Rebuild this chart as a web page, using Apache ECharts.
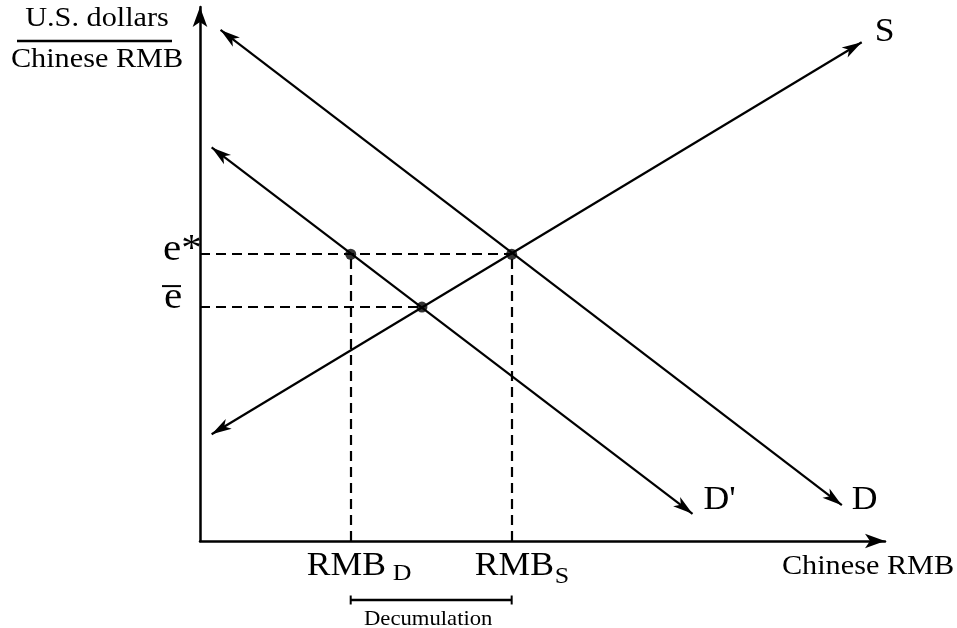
<!DOCTYPE html>
<html><head><meta charset="utf-8">
<script src="https://cdn.jsdelivr.net/npm/echarts@6/dist/echarts.min.js"></script>
<style>html,body{margin:0;padding:0;background:#fff}#c{width:957px;height:628px}</style>
</head><body><div id="c"></div>
<script>
// ---- data ----
const supplyX = [1.7, 96.6];
const supplyY = [20.0, 93.4];
const demandX = [3.0, 93.7];
const demandY = [95.7, 6.7];
const demandNewX = [1.7, 71.9];
const demandNewY = [73.7, 5.1];
const curveNames = ['S', 'D', "D'"];
const rateLevels = [53.7, 43.8];          // e*, e-bar
const rateLabels = ['e*', 'e'];
const quantityLevels = [22.0, 45.5];      // RMB_D, RMB_S
const quantityLabels = ['RMB', 'RMB'];
const quantitySubs = ['D', 'S'];
const eBarQuantity = 32.4;                // D' meets S at e-bar
const yAxisNameTop = 'U.S. dollars';
const yAxisNameBottom = 'Chinese RMB';
const xAxisName = 'Chinese RMB';
const bracketLabel = 'Decumulation';

const FONT = '"Liberation Serif","Times New Roman",serif';
// slender barbed arrow whose tip sits at the centre of a padded square box
const ARROW = 'path://M-20,-20 M20,20 M0,0 L5.5,19 L0,14 L-5.5,19 Z';
const chart = echarts.init(document.getElementById('c'), null, {renderer: 'canvas'});

const seg = (xs, ys) => ({coords: [[xs[0], ys[0]], [xs[1], ys[1]]]});
const axisCommon = {
  type: 'value', min: 0, max: 100,
  axisLine: {show: true, onZero: false, symbol: ['none', 'arrow'], symbolSize: [11, 20],
             lineStyle: {color: '#000', width: 2.5}},
  axisTick: {show: false}, axisLabel: {show: false}, splitLine: {show: false}
};

chart.setOption({
  animation: false,
  backgroundColor: '#fff',
  grid: {left: 200, right: 72, top: 7, bottom: 87},
  xAxis: axisCommon,
  yAxis: axisCommon,
  series: [
    {
      type: 'lines', coordinateSystem: 'cartesian2d', silent: true,
      symbol: [ARROW, ARROW], symbolSize: 42,
      lineStyle: {color: '#000', width: 2.2, opacity: 1, curveness: 0},
      data: [seg(supplyX, supplyY), seg(demandX, demandY), seg(demandNewX, demandNewY)]
    },
    {
      type: 'lines', coordinateSystem: 'cartesian2d', silent: true,
      symbol: ['none', 'none'],
      lineStyle: {color: '#000', width: 2.2, opacity: 1, type: [10, 6], curveness: 0},
      data: [
        {coords: [[0, rateLevels[0]], [quantityLevels[1], rateLevels[0]]]},
        {coords: [[0, rateLevels[1]], [eBarQuantity, rateLevels[1]]]},
        {coords: [[quantityLevels[0], 0], [quantityLevels[0], rateLevels[0]]]},
        {coords: [[quantityLevels[1], 0], [quantityLevels[1], rateLevels[0]]]}
      ]
    },
    {
      type: 'scatter', silent: true, symbolSize: 11, z: 5,
      itemStyle: {color: '#000'},
      data: [[quantityLevels[0], rateLevels[0]], [quantityLevels[1], rateLevels[0]], [eBarQuantity, rateLevels[1]]]
    }
  ]
});

const P = (x, y) => chart.convertToPixel({gridIndex: 0}, [x, y]);
function txt(text, x, y, size, align) {
  return {type: 'text', x: x, y: y, scaleX: 1.08, silent: true, z: 10,
    style: {text: text, font: size + 'px ' + FONT, fill: '#000',
            align: align, verticalAlign: 'middle', textAlign: align, textVerticalAlign: 'middle'}};
}
function bar(x1, y1, x2, y2, w) {
  return {type: 'line', silent: true, z: 10,
    shape: {x1: x1, y1: y1, x2: x2, y2: y2}, style: {stroke: '#000', lineWidth: w}};
}

const sEnd = P(supplyX[1], supplyY[1]);
const dEnd = P(demandX[1], demandY[1]);
const d2End = P(demandNewX[1], demandNewY[1]);
const eStarPx = P(0, rateLevels[0]);
const eBarPx = P(0, rateLevels[1]);
const qD = P(quantityLevels[0], 0);
const qS = P(quantityLevels[1], 0);
const origin = P(0, 0);

const g = [];
// curve labels
g.push(txt(curveNames[0], sEnd[0] + 13, sEnd[1] - 10, 33, 'left'));
g.push(txt(curveNames[1], dEnd[0] + 10, dEnd[1] - 4.5, 33, 'left'));
g.push(txt(curveNames[2], d2End[0] + 11, d2End[1] - 13.5, 33, 'left'));
// y labels
g.push(txt(rateLabels[0], eStarPx[0] - 37, eStarPx[1] - 4.5, 38, 'left'));
g.push(txt(rateLabels[1], eBarPx[0] - 36, eBarPx[1] - 9, 38, 'left'));
g.push(bar(eBarPx[0] - 38, eBarPx[1] - 21, eBarPx[0] - 19, eBarPx[1] - 21, 2));
// x labels with subscripts
g.push(txt(quantityLabels[0], qD[0] - 44, origin[1] + 25, 33, 'left'));
g.push(txt(quantitySubs[0], qD[0] + 42, origin[1] + 33, 24, 'left'));
g.push(txt(quantityLabels[1], qS[0] - 37, origin[1] + 25, 33, 'left'));
g.push(txt(quantitySubs[1], qS[0] + 43, origin[1] + 36, 24, 'left'));
// axis names
g.push(txt(yAxisNameTop, origin[0] - 103, 19, 28, 'center'));
g.push(bar(origin[0] - 183, 41, origin[0] - 28, 41, 2.5));
g.push(txt(yAxisNameBottom, origin[0] - 103, 60, 28, 'center'));
g.push(txt(xAxisName, 868, origin[1] + 26, 28, 'center'));
// decumulation bracket
const by = origin[1] + 59;
g.push({type: 'polyline', silent: true, z: 10,
  shape: {points: [[qD[0], by - 4.5], [qD[0], by + 4.5]]}, style: {stroke: '#000', lineWidth: 2, fill: null}});
g.push({type: 'polyline', silent: true, z: 10,
  shape: {points: [[qS[0], by - 4.5], [qS[0], by + 4.5]]}, style: {stroke: '#000', lineWidth: 2, fill: null}});
g.push(bar(qD[0], by, qS[0], by, 2.5));
g.push(txt(bracketLabel, (qD[0] + qS[0]) / 2 - 3, origin[1] + 78, 21, 'center'));

chart.setOption({graphic: {elements: g}});
</script></body></html>
